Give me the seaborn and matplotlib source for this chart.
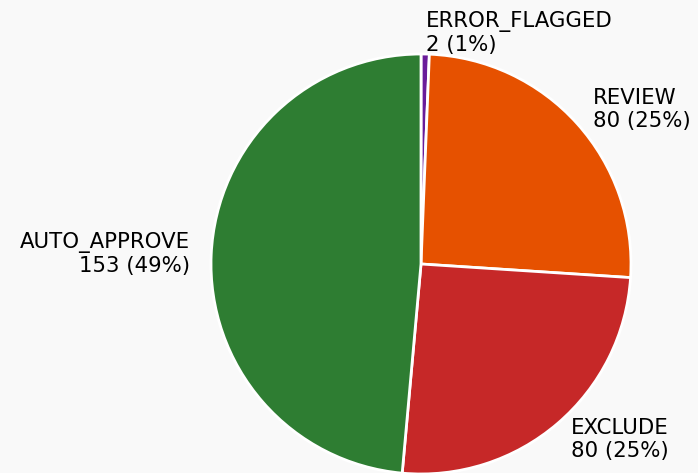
import matplotlib
matplotlib.use("Agg")
import matplotlib.pyplot as plt
import seaborn as sns

categories = ["ERROR_FLAGGED", "REVIEW", "EXCLUDE", "AUTO_APPROVE"]
counts = [2, 80, 80, 153]
colors = ["#6a1b9a", "#e65100", "#c62828", "#2e7d32"]

sns.set_theme(style="white")
plt.rcParams['font.family'] = ['DejaVu Sans']

bg = "#f9f9f9"
fig = plt.figure(figsize=(6.98, 4.73), dpi=100, facecolor=bg)
ax = fig.add_axes([0, 0, 1, 1])
ax.set_facecolor(bg)

total = sum(counts)
labels = [f"{c}\n{n} ({round(100*n/total)}%)" for c, n in zip(categories, counts)]

wedges, texts = ax.pie(counts, labels=labels, colors=colors, startangle=90,
                       counterclock=False, labeldistance=1.1,
                       wedgeprops=dict(edgecolor="white", linewidth=2),
                       textprops=dict(fontsize=15.3, color="#000000"))
ax.set_xlim(-421/210, (698-421)/210)
ax.set_ylim(-(473-264)/210, 264/210)
ax.set_aspect('equal')
ax.axis('off')
fig.savefig("out.png", dpi=100, facecolor=bg)
